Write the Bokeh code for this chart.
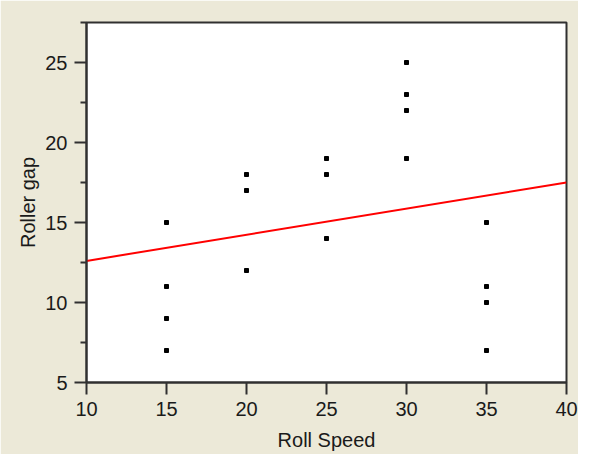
from bokeh.plotting import figure
from bokeh.models import Range1d, FixedTicker
from bokeh.embed import file_html
from bokeh.resources import INLINE

# Data
roll_speed = [15, 15, 15, 15, 20, 20, 20, 25, 25, 25, 30, 30, 30, 30, 35, 35, 35, 35]
roller_gap = [15, 11, 9, 7, 18, 17, 12, 19, 18, 14, 25, 23, 22, 19, 15, 11, 10, 7]
fit_x = [10, 40]
fit_y = [12.6, 17.5]
x_ticks = [10, 15, 20, 25, 30, 35, 40]
y_ticks = [5, 10, 15, 20, 25]
y_minor_ticks = [7.5, 12.5, 17.5, 22.5, 27.5]

BG = "#ECE9D8"
AX = "#303030"
FONT = "Liberation Sans"

p = figure(width=578, height=454, output_backend="svg", toolbar_location=None,
           x_range=Range1d(10, 40), y_range=Range1d(5, 27.5),
           min_border_left=86, min_border_right=12, min_border_top=22, min_border_bottom=72)
p.background_fill_color = "white"
p.border_fill_color = BG
p.outline_line_color = AX
p.outline_line_width = 2
p.xgrid.visible = False
p.ygrid.visible = False

p.line(fit_x, fit_y, line_color="#FF0000", line_width=2)
p.scatter(roll_speed, roller_gap, marker="square", size=4, fill_color="black", line_color="black")

p.xaxis.ticker = FixedTicker(ticks=x_ticks, minor_ticks=[])
p.yaxis.ticker = FixedTicker(ticks=y_ticks, minor_ticks=y_minor_ticks)
p.xaxis.axis_label = "Roll Speed"
p.yaxis.axis_label = "Roller gap"

for ax in (p.xaxis[0], p.yaxis[0]):
    ax.axis_line_color = AX
    ax.axis_line_width = 2
    ax.major_tick_line_color = AX
    ax.major_tick_line_width = 2
    ax.minor_tick_line_color = AX
    ax.minor_tick_line_width = 2
    ax.major_tick_in = 0
    ax.major_tick_out = 12
    ax.minor_tick_in = 0
    ax.minor_tick_out = 6
    ax.major_label_text_font = FONT
    ax.major_label_text_font_size = "20px"
    ax.major_label_text_color = "#1a1a1a"
    ax.axis_label_text_font = FONT
    ax.axis_label_text_font_size = "20px"
    ax.axis_label_text_font_style = "normal"
    ax.axis_label_text_color = "#1a1a1a"

p.xaxis.major_label_standoff = 7
p.xaxis.axis_label_standoff = 10
p.yaxis.major_label_standoff = 7
p.yaxis.axis_label_standoff = 3

open("out.html", "w").write(file_html(p, INLINE))
